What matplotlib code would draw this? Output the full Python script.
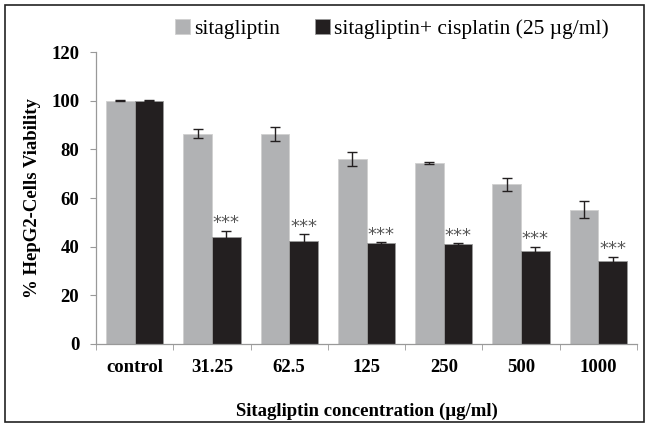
import matplotlib.pyplot as plt
import numpy as np
from matplotlib.patches import Rectangle

categories = ['control', '31.25', '62.5', '125', '250', '500', '1000']
sita = [100, 86.5, 86.3, 76.0, 74.3, 65.6, 55.1]
sita_err = [0.3, 2.0, 3.0, 3.0, 0.5, 2.7, 3.5]
combo = [100, 44.1, 42.5, 41.6, 41.0, 38.4, 34.0]
combo_err = [0.3, 2.5, 2.7, 0.3, 0.5, 1.6, 1.9]
stars = ['', '***', '***', '***', '***', '***', '***']

plt.rcParams['font.family'] = ['Liberation Serif', 'DejaVu Serif']

fig = plt.figure(figsize=(6.47, 4.24), dpi=100)
ax = fig.add_axes([96 / 647, 1 - 344 / 424, (637 - 96) / 647, (344 - 52) / 424])

x = np.arange(len(categories))
w = 0.37
gray = '#b1b2b4'
dark = '#231f20'
ekw = dict(elinewidth=1, capthick=1, ecolor='#231f20')
ax.bar(x - w / 2, sita, w, color=gray, edgecolor='#d0d0d0', linewidth=0.6,
       yerr=sita_err, capsize=3.5, error_kw=ekw, label='sitagliptin')
ax.bar(x + w / 2, combo, w, color=dark, edgecolor='#9a9a9a', linewidth=0.6,
       yerr=combo_err, capsize=3.5, error_kw=ekw,
       label='sitagliptin+ cisplatin (25 µg/ml)')

for i, s in enumerate(stars):
    if s:
        ax.text(x[i] + w / 2, combo[i] + combo_err[i] + 1.0, s, ha='center', va='baseline',
                fontsize=13, color='#555555', family='DejaVu Sans')

ax.set_xlim(-0.5, len(categories) - 0.5)
ax.set_ylim(0, 120)
ax.set_yticks(range(0, 121, 20))
ax.set_yticklabels([str(v) for v in range(0, 121, 20)], fontsize=13.5, fontweight='bold')
ax.set_xticks(x)
ax.set_xticklabels(categories, fontsize=13.5, fontweight='bold')
ax.set_xticks(np.arange(-0.5, len(categories)), minor=True)
ax.tick_params(axis='x', which='major', length=0, pad=11)
ax.tick_params(axis='x', which='minor', length=4, color='#999999')
ax.tick_params(axis='y', length=4, color='#999999', pad=8)

for side in ['top', 'right']:
    ax.spines[side].set_visible(False)
for side in ['left', 'bottom']:
    ax.spines[side].set_color('#999999')
    ax.spines[side].set_linewidth(0.9)

ax.set_ylabel('% HepG2-Cells Viability', fontsize=13.5, fontweight='bold', labelpad=7)
ax.set_xlabel('Sitagliptin concentration (µg/ml)', fontsize=13.5, fontweight='bold', labelpad=19)

ax.legend(loc='lower left', bbox_to_anchor=(0.122, 1.0), ncol=2, frameon=False,
          fontsize=15.5, handlelength=0.7, handleheight=0.7, handletextpad=0.2,
          columnspacing=1.6, borderaxespad=0.2)

fig.patches.append(Rectangle((5 / 647, 2 / 424), 639 / 647, 417 / 424, transform=fig.transFigure,
                             fill=False, edgecolor='#222222', linewidth=1.2))

fig.savefig('out.png', dpi=100)
